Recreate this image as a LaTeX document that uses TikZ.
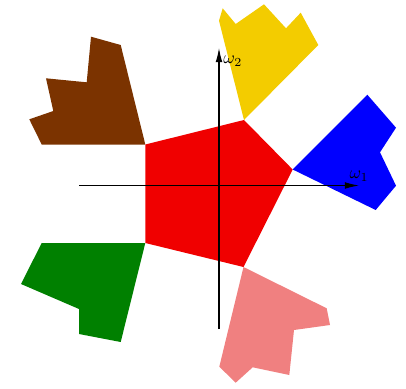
\documentclass[tikz,border=0pt]{standalone}
\usepackage{amsmath,amssymb}
\usetikzlibrary{arrows.meta,positioning}
\definecolor{cRed}{RGB}{240,0,0}
\definecolor{cGold}{RGB}{243,204,0}
\definecolor{cBlue}{RGB}{0,0,255}
\definecolor{cCoral}{RGB}{240,128,128}
\definecolor{cGreen}{RGB}{0,128,0}
\definecolor{cBrown}{RGB}{123,51,0}
\begin{document}
\begin{tikzpicture}[x=2cm, y=2cm,
    axis/.style={line width=0.6pt, -{Latex[length=8pt,width=3.8pt]}},
    cone/.style={draw=none}]
    \useasboundingbox (-2.19,-2.025) rectangle (1.87,1.855);

    % vertices of the central pentagon
    \coordinate (pTL) at (-0.737,0.41);
    \coordinate (pTR) at (0.25,0.655);
    \coordinate (pR)  at (0.737,0.16);
    \coordinate (pBR) at (0.245,-0.815);
    \coordinate (pBL) at (-0.737,-0.575);

    % regions in the normal cone of each vertex
    \fill[cone, cGold] (pTR) -- (0.0,1.648) -- (0.037,1.772) -- (0.167,1.615)
      -- (0.45,1.812) -- (0.67,1.572) -- (0.817,1.728) -- (0.993,1.405) -- cycle;
    \fill[cone, cBlue] (pR) -- (1.483,0.908) -- (1.77,0.578) -- (1.61,0.332)
      -- (1.77,-0.002) -- (1.567,-0.245) -- cycle;
    \fill[cone, cCoral] (pBR) -- (1.077,-1.228) -- (1.11,-1.395) -- (0.75,-1.445)
      -- (0.703,-1.895) -- (0.337,-1.818) -- (0.167,-1.972) -- (0.003,-1.812) -- cycle;
    \fill[cone, cGreen] (pBL) -- (-0.983,-1.565) -- (-1.4,-1.485) -- (-1.4,-1.235)
      -- (-1.98,-0.985) -- (-1.773,-0.575) -- cycle;
    \fill[cone, cBrown] (pTL) -- (-1.773,0.41) -- (-1.897,0.662) -- (-1.657,0.745)
      -- (-1.73,1.072) -- (-1.323,1.032) -- (-1.28,1.488) -- (-0.983,1.405) -- cycle;

    % the pentagon itself
    \fill[cRed] (pTL) -- (pTR) -- (pR) -- (pBR) -- (pBL) -- cycle;

    % axes
    \coordinate (w1a) at (-1.397,0);
    \coordinate (w1b) at (1.40,0);
    \coordinate (w2a) at (0,-1.435);
    \coordinate (w2b) at (0,1.375);
    \draw[axis] (w1a) -- (w1b);
    \draw[axis] (w2a) -- (w2b);
    \node[above=-1pt] (w1) at (w1b) {$\omega_1$};
    \node[below right=1pt and -1pt] (w2) at (w2b) {$\omega_2$};
\end{tikzpicture}
\end{document}
